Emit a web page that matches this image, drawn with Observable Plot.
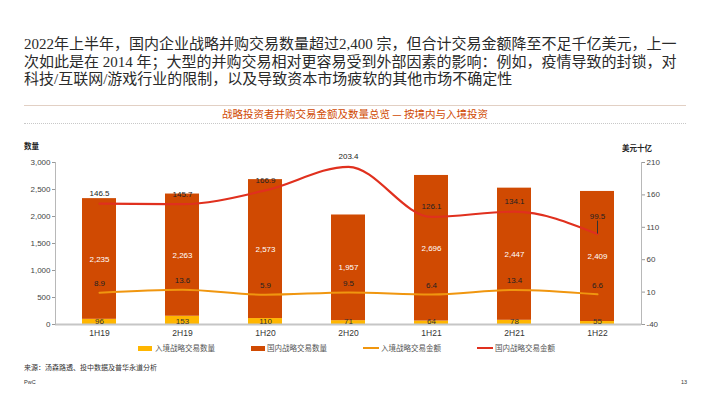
<!DOCTYPE html>
<html>
<head>
<meta charset="utf-8">
<script src="https://cdn.jsdelivr.net/npm/d3@7"></script>
<script src="https://cdn.jsdelivr.net/npm/@observablehq/plot@0.6"></script>
<style>
  body { margin:0; width:710px; height:399px; position:relative; background:#fff; overflow:hidden;
         font-family: "Liberation Sans", Arial, "Noto Sans CJK SC", sans-serif; color:#333; }
  .abs { position:absolute; white-space:nowrap; }
  .title { left:24px; top:36px; font-size:15px; line-height:17.5px; color:#2a2a2a;
           font-family: "Liberation Serif", "Noto Sans CJK SC", serif; }
  .ctitle { left:0; width:710px; text-align:center; top:108px; font-size:10.5px; line-height:12px; color:#d04a02;
            font-family: "Noto Sans CJK SC", sans-serif; }
  .axt { font-size:7.5px; font-weight:bold; color:#222; font-family: "Noto Sans CJK SC", sans-serif; line-height:10px; }
  .leg { font-size:7.5px; color:#555; line-height:10px; font-family: "Noto Sans CJK SC", sans-serif; }
  .sw { position:absolute; }
</style>
</head>
<body>
<div class="abs title">2022年上半年，国内企业战略并购交易数量超过2,400 宗，但合计交易金额降至不足千亿美元，上一<br>次如此是在 2014 年；大型的并购交易相对更容易受到外部因素的影响：例如，疫情导致的封锁，对<br>科技/互联网/游戏行业的限制，以及导致资本市场疲软的其他市场不确定性</div>
<div class="abs" style="left:24px;top:105px;width:662px;border-top:1.5px solid #e2d0c4"></div>
<div class="abs ctitle">战略投资者并购交易金额及数量总览 — 按境内与入境投资</div>
<div class="abs" style="left:24px;top:123px;width:662px;border-top:1px dotted #c8c8c8"></div>
<div class="abs axt" style="left:24px;top:141px">数量</div>
<div class="abs axt" style="left:622px;top:143px">美元十亿</div>
<div id="chart" class="abs" style="left:0;top:135px"></div>
<div id="legend"></div>
<div class="abs" style="left:24px;top:363px;font-size:7px;line-height:9px;color:#333;font-family:'Noto Sans CJK SC',sans-serif">来源：汤森路透、投中数据及普华永道分析</div>
<div class="abs" style="left:24px;top:379px;font-size:5.5px;line-height:7px;color:#333">PwC</div>
<div class="abs" style="left:681px;top:379px;font-size:5.5px;line-height:7px;color:#333">13</div>
<script>
const cats = ["1H19","2H19","1H20","2H20","1H21","2H21","1H22"];
const inboundCount = [96,153,110,71,64,78,55];
const domesticCount = [2235,2263,2573,1957,2696,2447,2409];
const inboundValue = [8.9,13.6,5.9,9.5,6.4,13.4,6.6];
const domesticValue = [146.5,145.7,166.9,203.4,126.1,134.1,99.5];
const leftTicks = [0,500,1000,1500,2000,2500,3000];
const rightTicks = [-40,10,60,110,160,210];
const seriesNames = ["入境战略交易数量","国内战略交易数量","入境战略交易金额","国内战略交易金额"];
const colors = ["#ffb600","#d04a02","#f0960f","#e0301e"];

const leftMax = leftTicks[leftTicks.length-1];
const rMin = rightTicks[0], rMax = rightTicks[rightTicks.length-1];
const toLeft = v => (v - rMin) / (rMax - rMin) * leftMax;
const fromLeft = c => Math.round(c / leftMax * (rMax - rMin) + rMin);

const rows = cats.map((c,i) => ({cat:c, ic:inboundCount[i], dc:domesticCount[i], iv:inboundValue[i], dv:domesticValue[i]}));
const lastCat = cats[cats.length-1];
const fmt = d3.format(",");

const chart = Plot.plot({
  width: 710, height: 210,
  marginTop: 27, marginBottom: 21, marginLeft: 55, marginRight: 69,
  style: {fontFamily: "'Liberation Sans', Arial, sans-serif", fontSize: "8px", color: "#333", overflow: "visible"},
  x: {domain: cats, paddingInner: 0.59, paddingOuter: 0.295, label: null},
  y: {domain: [0, leftMax], label: null},
  marks: [
    Plot.barY(rows, {x:"cat", y1:0, y2:"ic", fill: colors[0]}),
    Plot.barY(rows, {x:"cat", y1:"ic", y2: d => d.ic + d.dc, fill: colors[1]}),
    Plot.ruleY([0], {stroke:"#c6c6c6", strokeWidth:2}),
    Plot.frame({anchor:"left", stroke:"#b8b8b8"}),
    Plot.frame({anchor:"right", stroke:"#b8b8b8"}),
    Plot.axisY(leftTicks, {anchor:"left", tickFormat: fmt, tickSize:3, tickPadding:2, stroke:"#999", fill:"#444", label:null}),
    Plot.axisY(rightTicks.map(toLeft), {anchor:"right", tickFormat: fromLeft, tickSize:3, tickPadding:2, stroke:"#999", fill:"#444", label:null}),
    Plot.axisX({tickSize:0, tickPadding:5, fill:"#333", fontSize:8.5, label:null}),
    Plot.line(rows, {x:"cat", y: d => toLeft(d.iv), stroke: colors[2], strokeWidth:2, curve:"monotone-x"}),
    Plot.line(rows, {x:"cat", y: d => toLeft(d.dv), stroke: colors[3], strokeWidth:2.2, curve:"monotone-x"}),
    Plot.ruleX(rows, {filter: d => d.cat === lastCat, x:"cat", y1: d => toLeft(d.dv), y2: d => toLeft(d.dv), insetTop:-13, stroke:"#333", strokeWidth:1}),
    Plot.text(rows, {x:"cat", y:0, dy:-3, text: d => fmt(d.ic), fill:"#333"}),
    Plot.text(rows, {x:"cat", y: d => d.ic + d.dc/2, text: d => fmt(d.dc), fill:"#fff"}),
    Plot.text(rows, {x:"cat", y: d => toLeft(d.iv), dy:-9, text: d => d.iv.toFixed(1), fill:"#222"}),
    Plot.text(rows, {filter: d => d.cat !== lastCat, x:"cat", y: d => toLeft(d.dv), dy:-10, text: d => d.dv.toFixed(1), fill:"#222"}),
    Plot.text(rows, {filter: d => d.cat === lastCat, x:"cat", y: d => toLeft(d.dv), dy:-18, text: d => d.dv.toFixed(1), fill:"#222"})
  ]
});
document.getElementById("chart").appendChild(chart);

// legend
const legPos = [{sx:138, tx:155, kind:"rect"}, {sx:251, tx:267, kind:"rect"}, {sx:363, tx:381, kind:"line"}, {sx:477, tx:495, kind:"line"}];
const leg = document.getElementById("legend");
seriesNames.forEach((n,i) => {
  const p = legPos[i];
  const sw = document.createElement("div");
  sw.className = "sw";
  if (p.kind === "rect") {
    sw.style.cssText = `left:${p.sx}px;top:345.5px;width:14px;height:5px;background:${colors[i]}`;
  } else {
    sw.style.cssText = `left:${p.sx}px;top:347px;width:16px;height:2px;background:${colors[i]}`;
  }
  leg.appendChild(sw);
  const t = document.createElement("div");
  t.className = "abs leg";
  t.style.left = p.tx + "px";
  t.style.top = "343px";
  t.textContent = n;
  leg.appendChild(t);
});
</script>
</body>
</html>
